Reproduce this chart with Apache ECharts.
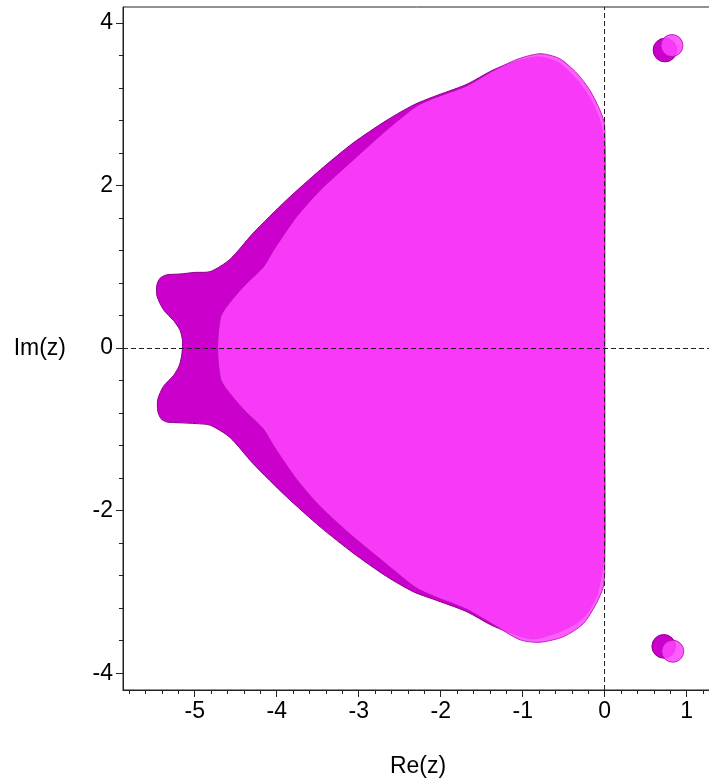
<!DOCTYPE html>
<html>
<head>
<meta charset="utf-8">
<script src="https://cdn.jsdelivr.net/npm/echarts@6/dist/echarts.min.js"></script>
<style>
  html, body { margin: 0; padding: 0; background: #fff; }
  #main { width: 709px; height: 779px; }
</style>
</head>
<body>
<div id="main"></div>
<script>
// outline of the darker region (method A)
var regionA = [
  [0, 2.48], [-0.03, 2.68], [-0.08, 2.86], [-0.18, 3.07], [-0.34, 3.30], [-0.55, 3.50],
  [-0.79, 3.58], [-1.07, 3.53], [-1.36, 3.42], [-1.69, 3.24], [-2.09, 3.09], [-2.33, 2.99],
  [-2.66, 2.80], [-3.07, 2.52], [-3.47, 2.19], [-3.88, 1.82], [-4.29, 1.41], [-4.57, 1.09],
  [-4.81, 0.94], [-5.00, 0.93], [-5.18, 0.91], [-5.34, 0.90], [-5.42, 0.86], [-5.46, 0.78],
  [-5.46, 0.64], [-5.38, 0.47], [-5.26, 0.34], [-5.18, 0.22], [-5.15, 0.10], [-5.15, 0],
  [-5.16, -0.10], [-5.19, -0.22], [-5.26, -0.34], [-5.38, -0.47], [-5.45, -0.63], [-5.45, -0.78],
  [-5.41, -0.87], [-5.34, -0.91], [-5.18, -0.92], [-4.98, -0.93], [-4.81, -0.95],
  [-4.57, -1.10], [-4.29, -1.42], [-3.88, -1.83], [-3.47, -2.20], [-3.07, -2.52], [-2.66, -2.81],
  [-2.33, -3.00], [-2.09, -3.09], [-1.69, -3.24], [-1.36, -3.42], [-1.07, -3.53], [-0.87, -3.58],
  [-0.55, -3.49], [-0.34, -3.38], [-0.22, -3.27], [-0.10, -3.05], [-0.03, -2.75], [0, -2.48],
  [0, -1.2], [0, 0], [0, 1.2]
];

// outline of the lighter region (method B)
var regionB = [
  [0, 2.74], [-0.06, 2.93], [-0.18, 3.17], [-0.34, 3.38], [-0.55, 3.56], [-0.79, 3.62],
  [-1.07, 3.55], [-1.36, 3.41], [-1.69, 3.22], [-2.09, 3.07], [-2.30, 2.97],
  [-2.66, 2.68], [-3.07, 2.31], [-3.47, 1.94], [-3.76, 1.61], [-4.04, 1.20], [-4.16, 1.00],
  [-4.41, 0.75], [-4.61, 0.51], [-4.68, 0.39], [-4.71, 0.20], [-4.72, 0],
  [-4.71, -0.20], [-4.68, -0.39], [-4.61, -0.51], [-4.41, -0.75], [-4.16, -1.00], [-4.04, -1.20],
  [-3.76, -1.61], [-3.47, -1.95], [-3.07, -2.32], [-2.66, -2.66], [-2.30, -2.95], [-2.09, -3.05],
  [-1.69, -3.21], [-1.36, -3.40], [-1.03, -3.59], [-0.79, -3.62], [-0.50, -3.55], [-0.26, -3.39],
  [-0.10, -3.14], [-0.02, -2.95], [0, -2.77], [0, -1.2], [0, 0], [0, 1.2]
];

// small islands: [re, im, radius]
var islandsA = [[0.735, 3.665, 0.145], [0.72, -3.67, 0.145]];
var islandsB = [[0.82, 3.72, 0.135], [0.83, -3.73, 0.135]];

var xLabels = [-5, -4, -3, -2, -1, 0, 1];
var yLabels = [-4, -2, 0, 2, 4];
var xMinor = [-5.8, -5.6, -5.4, -5.2, -5, -4.8, -4.6, -4.4, -4.2, -4, -3.8, -3.6, -3.4, -3.2, -3,
  -2.8, -2.6, -2.4, -2.2, -2, -1.8, -1.6, -1.4, -1.2, -1, -0.8, -0.6, -0.4, -0.2, 0,
  0.2, 0.4, 0.6, 0.8, 1, 1.2];
var yMinor = [-4, -3.6, -3.2, -2.8, -2.4, -2, -1.6, -1.2, -0.8, -0.4, 0, 0.4, 0.8, 1.2, 1.6,
  2, 2.4, 2.8, 3.2, 3.6, 4];

var myChart = echarts.init(document.getElementById('main'));

var labelFont = { fontFamily: 'Liberation Sans, Arial, sans-serif', fontSize: 23, color: '#000' };

function polySeries(points, fill, stroke, opacity, z) {
  return {
    type: 'custom',
    z: z,
    silent: true,
    data: [points[0]],
    renderItem: function (params, api) {
      var pts = points.map(function (p) { return api.coord(p); });
      return {
        type: 'polygon',
        shape: { points: pts, smooth: 0.25 },
        style: { fill: fill, stroke: stroke, lineWidth: 1, opacity: opacity }
      };
    }
  };
}

function circleSeries(list, fill, stroke, opacity, z) {
  return {
    type: 'custom',
    z: z,
    silent: true,
    data: list,
    renderItem: function (params, api) {
      var c = api.coord([api.value(0), api.value(1)]);
      var s = api.size([api.value(2), api.value(2)]);
      return {
        type: 'circle',
        shape: { cx: c[0], cy: c[1], r: (s[0] + s[1]) / 2 },
        style: { fill: fill, stroke: stroke, lineWidth: 1, opacity: opacity }
      };
    }
  };
}

var xMin = (123 - 604.7) / 82, xMax = (713 - 604.7) / 82;
var yMin = (348 - 690) / 81.3, yMax = (348 - 7) / 81.3;

option = {
  animation: false,
  backgroundColor: '#fff',
  grid: {
    left: 123, top: 7, width: 590, height: 683,
    outerBoundsMode: 'none',
    containLabel: false,
    show: true, borderColor: '#222', borderWidth: 1
  },
  xAxis: [{
    type: 'value',
    min: xMin,
    max: xMax,
    position: 'bottom',
    name: 'Re(z)',
    nameLocation: 'middle',
    nameGap: 65,
    nameTextStyle: labelFont,
    splitLine: { show: false },
    axisLine: { show: true, onZero: false, lineStyle: { color: '#222', width: 1 } },
    axisTick: { show: true, length: 4, customValues: xMinor, lineStyle: { color: '#222' } },
    axisLabel: Object.assign({ margin: 10, customValues: xLabels, formatter: function (v) { return String(v); } }, labelFont)
  }, {
    type: 'value',
    min: xMin,
    max: xMax,
    position: 'bottom',
    splitLine: { show: false },
    axisLine: { show: false, onZero: false },
    axisTick: { show: true, length: 7, customValues: xLabels, lineStyle: { color: '#222' } },
    axisLabel: { show: false }
  }],
  yAxis: [{
    type: 'value',
    min: yMin,
    max: yMax,
    position: 'left',
    name: 'Im(z)',
    nameLocation: 'middle',
    nameRotate: 0,
    nameGap: 57,
    nameTextStyle: labelFont,
    splitLine: { show: false },
    axisLine: { show: true, onZero: false, lineStyle: { color: '#222', width: 1 } },
    axisTick: { show: true, length: 4, customValues: yMinor, lineStyle: { color: '#222' } },
    axisLabel: Object.assign({ margin: 10, customValues: yLabels, formatter: function (v) { return String(v); } }, labelFont)
  }, {
    type: 'value',
    min: yMin,
    max: yMax,
    position: 'left',
    splitLine: { show: false },
    axisLine: { show: false, onZero: false },
    axisTick: { show: true, length: 7, customValues: yLabels, lineStyle: { color: '#222' } },
    axisLabel: { show: false }
  }],
  series: [
    polySeries(regionA, '#cc00cc', '#8a008a', 1, 1),
    polySeries(regionB, '#ff44ff', '#b010b0', 0.86, 2),
    circleSeries(islandsA, '#cc00cc', '#8a008a', 1, 1),
    circleSeries(islandsB, '#ff44ff', '#b010b0', 0.86, 2),
    {
      type: 'line',
      data: [],
      z: 5,
      markLine: {
        silent: true,
        symbol: 'none',
        label: { show: false },
        lineStyle: { color: '#222', type: [5, 3], width: 1 },
        data: [{ xAxis: 0 }, { yAxis: 0 }]
      }
    }
  ]
};

myChart.setOption(option);
</script>
</body>
</html>
